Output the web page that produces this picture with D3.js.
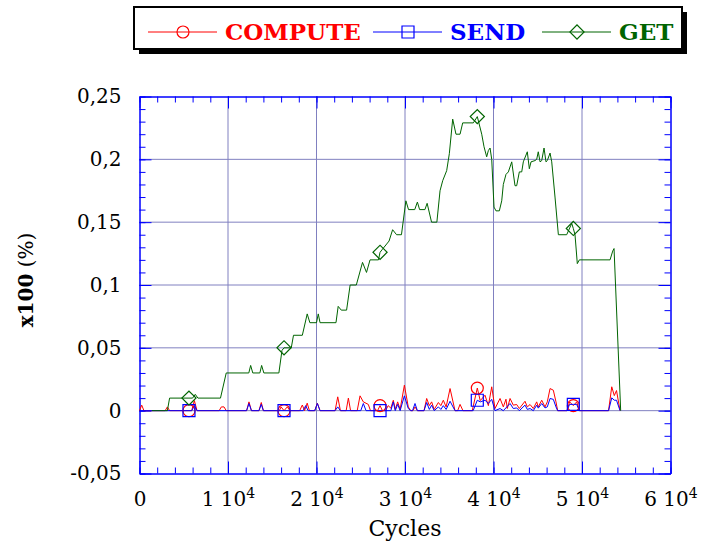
<!DOCTYPE html>
<html>
<head>
<meta charset="utf-8">
<script src="https://cdn.jsdelivr.net/npm/d3@7"></script>
<style>
  body { margin: 0; background: #fff; }
  svg { display: block; font-family: "DejaVu Serif", serif; }
</style>
</head>
<body>
<div id="chart"></div>
<script>
// series names and their data (x = cycles, y = x100 %)
const seriesNames = ["COMPUTE", "SEND", "GET"];

const computeCycles = [0, 250, 500, 2900, 3150, 3400, 5590, 5900, 6200, 6500, 9000, 9250, 9550, 9800,
  12100, 12370, 12650, 13500, 13760, 14000, 15800, 16000, 16330, 16700, 17000, 18100, 18400, 18650,
  18950, 19200, 19800, 20100, 20400, 22100, 22400, 22700, 23350, 23600, 23850, 24600, 24920, 25290,
  25850, 26100, 26900, 27180, 27450, 27800, 28100, 28400, 28680, 28900, 29170, 29450, 29930, 30370,
  30650, 30900, 31130, 31400, 32150, 32450, 32750, 33010, 33300, 33770, 34050, 34330, 34650, 35090,
  35650, 35950, 36220, 36550, 37600, 38170, 38500, 39040, 39420, 39800, 40170, 40740, 41110, 41410,
  41560, 41870, 42240, 42620, 42920, 43560, 43820, 44130, 44500, 44880, 45060, 45450, 45820, 46080,
  46390, 46760, 47060, 47250, 48300, 48600, 49020, 49400, 49700, 53000, 53360, 53650, 53900, 54300];
const computeValues = [0, 0.0044, 0, 0, 0.003, 0, 0, 0, 0.008, 0, 0, 0.003, 0.003, 0,
  0, 0.007, 0, 0, 0.0065, 0, 0, 0.003, 0, 0.003, 0, 0, 0.0045, 0,
  0.006, 0, 0, 0.006, 0, 0, 0.011, 0, 0, 0.010, 0, 0, 0.0118, 0.007,
  0.005, 0, 0, 0.004, 0, 0, 0.004, 0.002, 0.0083, 0.001, 0.007, 0.001, 0.0203, 0.003,
  0, 0, 0.003, 0, 0, 0.0097, 0.004, 0.007, 0.001, 0.0065, 0.004, 0.0083, 0.003, 0.0176,
  0, 0, 0.005, 0, 0, 0.018, 0.008, 0.0123, 0.004, 0.019, 0.0017, 0.0097, 0.003, 0.0091,
  0.0017, 0.0097, 0.0044, 0.0049, 0.0017, 0.0075, 0.003, 0.0049, 0.0017, 0.007, 0.003, 0.0083, 0.003, 0.007,
  0.0176, 0.0163, 0.007, 0, 0, 0.007, 0.004, 0.007, 0, 0, 0.019, 0.012, 0.016, 0];

const sendCycles = [0, 5590, 5900, 6200, 6500, 12100, 12370, 12650, 13500, 13760, 14000, 16330,
  18500, 18780, 19050, 19800, 20100, 20400, 22100, 22400, 22700, 25000, 25290, 25600, 27180,
  28400, 28680, 28900, 29170, 29450, 29930, 30370, 30650, 30850, 31130, 31400, 32150, 32450,
  32750, 33010, 33300, 33770, 34050, 34330, 34650, 35090, 35650, 37700, 38170, 38500, 39040,
  39420, 39800, 40170, 40740, 41110, 41870, 42240, 42620, 42920, 43560, 43820, 44130, 44500,
  44880, 45060, 45450, 45820, 46080, 46390, 46760, 47060, 47250, 48300, 48600, 49020, 49400,
  49700, 53000, 53360, 53650, 53900, 54300];
const sendValues = [0, 0, 0, 0.004, 0, 0, 0.0057, 0, 0, 0.005, 0, 0,
  0, 0.004, 0, 0, 0.0057, 0, 0, 0.003, 0, 0, 0.0057, 0, 0,
  0, 0.007, 0, 0.005, 0, 0.0118, 0.0017, 0, 0, 0.0057, 0, 0, 0.0065,
  0.001, 0.0044, 0, 0.003, 0.001, 0.004, 0.001, 0.0075, 0, 0, 0.0083, 0.007, 0.0083,
  0.0057, 0.009, 0, 0.0017, 0, 0.0057, 0.0017, 0.0022, 0, 0.0044, 0.001, 0.0017, 0,
  0.0044, 0.002, 0.0057, 0.0022, 0.003, 0.0097, 0.009, 0.003, 0, 0, 0.005, 0.005, 0.005,
  0, 0, 0.0102, 0.0083, 0.0083, 0];

const getCycles = [1400, 3150, 3400, 5590, 6000, 6300, 6600, 9150, 9800, 12350, 12560, 12800,
  13600, 13800, 14050, 15750, 16100, 16330, 17150, 17400, 18400, 18950, 19250, 20000, 20200,
  20400, 22200, 22450, 22800, 23400, 23800, 24500, 25200, 25650, 26050, 27000, 27180, 27400,
  28200, 28600, 29050, 29600, 30100, 30400, 31100, 31400, 31650, 32250, 32500, 33000, 33600,
  33960, 34260, 34710, 35010, 35390, 35760, 36220, 36520, 37720, 38170, 38670, 38930, 39230,
  39420, 39610, 39800, 40060, 40280, 40660, 40930, 41110, 41410, 41680, 42060, 42430, 42620,
  42920, 43190, 43370, 43820, 44050, 44240, 44690, 44880, 45060, 45260, 45450, 45710, 45930,
  46080, 46390, 46580, 46950, 47330, 48270, 48840, 49020, 49210, 49470, 49700, 53170, 53470,
  53620, 54370];
const getValues = [0, 0, 0.01, 0.01, 0.01, 0.013, 0.01, 0.01, 0.03, 0.03, 0.036, 0.03,
  0.03, 0.036, 0.03, 0.03, 0.048, 0.05, 0.05, 0.06, 0.06, 0.077, 0.07, 0.07, 0.077,
  0.07, 0.07, 0.083, 0.08, 0.08, 0.1, 0.1, 0.118, 0.11, 0.12, 0.12, 0.126, 0.128,
  0.135, 0.144, 0.14, 0.14, 0.167, 0.16, 0.16, 0.166, 0.16, 0.16, 0.165, 0.15, 0.15,
  0.175, 0.183, 0.191, 0.2045, 0.232, 0.22, 0.22, 0.229, 0.229, 0.234, 0.22, 0.21, 0.202,
  0.207, 0.209, 0.2, 0.162, 0.159, 0.159, 0.167, 0.18, 0.188, 0.19, 0.198, 0.179, 0.179,
  0.19, 0.19, 0.198, 0.206, 0.1925, 0.198, 0.199, 0.2, 0.206, 0.198, 0.199, 0.209, 0.198,
  0.199, 0.205, 0.198, 0.17, 0.14, 0.14, 0.149, 0.145, 0.14, 0.117, 0.12, 0.12, 0.127,
  0.129, 0];

// cycles at which the markers sit
const markerCycles = [5590, 16330, 27180, 38170, 49020];

const xTicks = [0, 10000, 20000, 30000, 40000, 50000, 60000];
const yTicks = [-0.05, 0, 0.05, 0.1, 0.15, 0.2, 0.25];

const colors = ["#ff0000", "#0000ff", "#006400"];

const width = 706, height = 542;
const plotL = 139.5, plotR = 670.5, plotT = 96.5, plotB = 473.5;

const svg = d3.select("#chart").append("svg")
  .attr("width", width)
  .attr("height", height);

const x = d3.scaleLinear().domain([0, 60000]).range([plotL, plotR]);
const y = d3.scaleLinear().domain([-0.05, 0.25]).range([plotB, plotT]);

const series = [
  {name: seriesNames[0], color: colors[0], shape: "circle", pts: d3.zip(computeCycles, computeValues)},
  {name: seriesNames[1], color: colors[1], shape: "square", pts: d3.zip(sendCycles, sendValues)},
  {name: seriesNames[2], color: colors[2], shape: "diamond", pts: d3.zip(getCycles, getValues)}
];

// grid
const gridColor = "#8080c0";
svg.append("g").selectAll("line")
  .data(xTicks.slice(1, -1))
  .join("line")
  .attr("x1", d => x(d)).attr("x2", d => x(d))
  .attr("y1", plotT).attr("y2", plotB)
  .attr("stroke", gridColor);
svg.append("g").selectAll("line")
  .data(yTicks.slice(1, -1))
  .join("line")
  .attr("x1", plotL).attr("x2", plotR)
  .attr("y1", d => y(d)).attr("y2", d => y(d))
  .attr("stroke", gridColor);

// inward ticks on all four sides
const xMinor = d3.range(0, 60001, 2000);
const yMinor = d3.range(-50, 251, 10).map(v => v / 1000);

function frameAxis(axisFn, scale, values, size, tx, ty) {
  const g = svg.append("g")
    .attr("transform", `translate(${tx},${ty})`)
    .call(axisFn(scale).tickValues(values).tickSize(size).tickSizeOuter(0).tickFormat(""));
  g.selectAll("line").attr("stroke", "#0000ff");
  g.select(".domain").attr("stroke", "#0000ff");
}
frameAxis(d3.axisBottom, x, xMinor, 6, 0, plotT);
frameAxis(d3.axisBottom, x, xTicks, 12, 0, plotT);
frameAxis(d3.axisTop, x, xMinor, 6, 0, plotB);
frameAxis(d3.axisTop, x, xTicks, 12, 0, plotB);
frameAxis(d3.axisRight, y, yMinor, 6, plotL, 0);
frameAxis(d3.axisRight, y, yTicks, 12, plotL, 0);
frameAxis(d3.axisLeft, y, yMinor, 6, plotR, 0);
frameAxis(d3.axisLeft, y, yTicks, 12, plotR, 0);

// tick labels
const locale = d3.formatLocale({decimal: ",", thousands: " ", grouping: [3], currency: ["", ""], minus: "-"});
const yFmt = v => locale.format("")(+v.toFixed(2));

const yLab = svg.append("g")
  .attr("transform", `translate(${plotL},0)`)
  .call(d3.axisLeft(y).tickValues(yTicks).tickSize(0).tickPadding(18).tickFormat(yFmt));
yLab.select(".domain").remove();
yLab.selectAll("text").attr("font-family", "DejaVu Serif").attr("font-size", 20).attr("fill", "#000");

const xLab = svg.append("g")
  .attr("transform", `translate(0,${plotB})`)
  .call(d3.axisBottom(x).tickValues(xTicks).tickSize(0).tickPadding(18).tickFormat(""));
xLab.select(".domain").remove();
xLab.selectAll("text")
  .attr("font-family", "DejaVu Serif").attr("font-size", 20).attr("fill", "#000")
  .each(function(d) {
    const t = d3.select(this);
    const k = d / 10000;
    if (k === 0) { t.text("0"); return; }
    t.append("tspan").text(k + " 10");
    t.append("tspan").attr("font-size", 14).attr("dy", "-0.55em").text("4");
  });

// series lines
const line = d3.line().x(d => x(d[0])).y(d => y(d[1]));
svg.append("g").selectAll("path")
  .data(series)
  .join("path")
  .attr("d", d => line(d.pts))
  .attr("fill", "none")
  .attr("stroke", d => d.color)
  .attr("stroke-width", 1)
  .attr("stroke-linejoin", "round");

// markers
const symbolFor = {
  circle: d3.symbol(d3.symbolCircle, Math.PI * 36),
  square: d3.symbol(d3.symbolSquare, 144),
  diamond: d3.symbol(d3.symbolSquare, 100)
};
series.forEach(s => {
  const marks = s.pts.filter(p => markerCycles.includes(p[0]));
  svg.append("g").selectAll("path")
    .data(marks)
    .join("path")
    .attr("d", symbolFor[s.shape])
    .attr("transform", p => `translate(${x(p[0])},${y(p[1])})` + (s.shape === "diamond" ? " rotate(45)" : ""))
    .attr("fill", "none")
    .attr("stroke", s.color)
    .attr("stroke-width", 1.2);
});

// axis titles
svg.append("text")
  .attr("x", (plotL + plotR) / 2)
  .attr("y", 536)
  .attr("text-anchor", "middle")
  .attr("font-size", 22)
  .text("Cycles");

const yt = svg.append("text")
  .attr("transform", `translate(33,280) rotate(-90)`)
  .attr("text-anchor", "middle")
  .attr("font-size", 20);
yt.append("tspan").attr("font-weight", "bold").text("x100");
yt.append("tspan").text(" (%)");

// legend
const lg = svg.append("g");
lg.append("rect").attr("x", 139).attr("y", 12).attr("width", 548).attr("height", 42).attr("fill", "#000");
lg.append("rect").attr("x", 134).attr("y", 7).attr("width", 548).attr("height", 42)
  .attr("fill", "#fff").attr("stroke", "#000").attr("stroke-width", 2);

const legendX = [148, 373, 542];
series.forEach((s, i) => {
  const g = lg.append("g").attr("transform", `translate(${legendX[i]},32)`);
  g.append("line").attr("x1", 0).attr("x2", 69).attr("stroke", s.color);
  g.append("path")
    .attr("d", symbolFor[s.shape])
    .attr("transform", "translate(35,0)" + (s.shape === "diamond" ? " rotate(45)" : ""))
    .attr("fill", "none").attr("stroke", s.color).attr("stroke-width", 1.2);
  g.append("text")
    .attr("x", 77).attr("y", 8)
    .attr("font-size", 23).attr("font-weight", "bold")
    .attr("fill", s.color)
    .text(s.name);
});
</script>
</body>
</html>
